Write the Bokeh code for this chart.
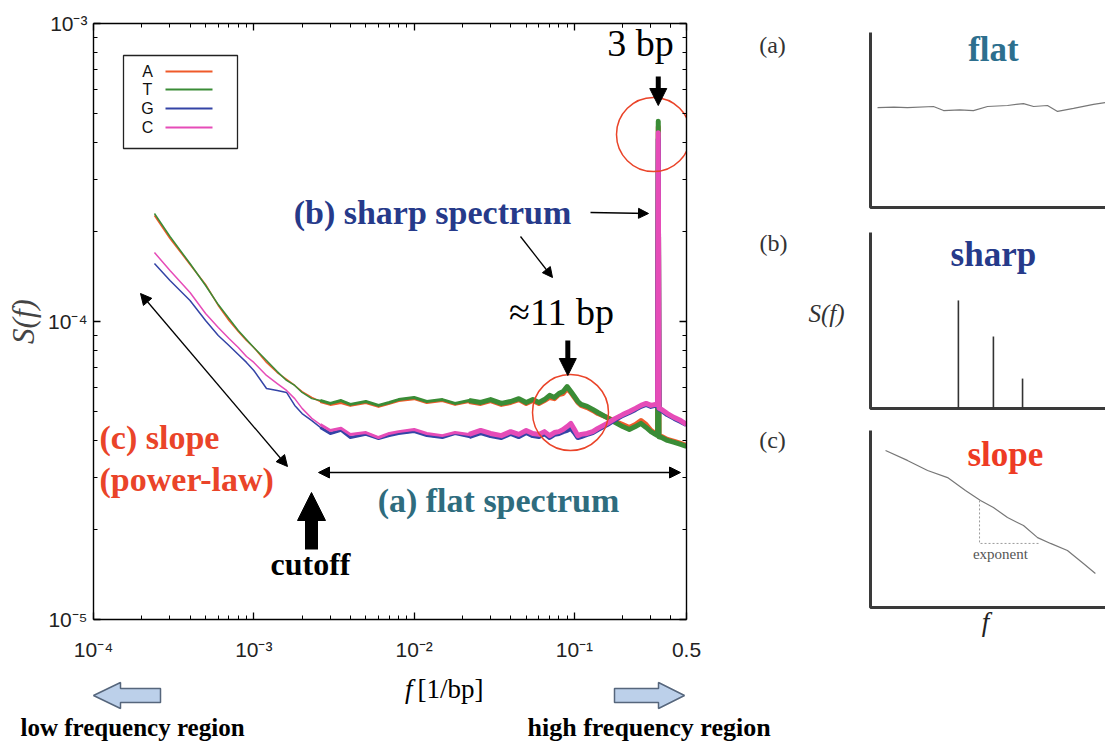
import numpy as np
from bokeh.plotting import figure
from bokeh.models import (Range1d, LogAxis, FixedTicker, CustomJSTickFormatter, Label,
                          Arrow, NormalHead)
from bokeh.layouts import row, column
from bokeh.embed import file_html
from bokeh.resources import INLINE
from bokeh.core.properties import value

# ---------------------------------------------------------------------------
# Power spectra S(f) of the four nucleotide indicator sequences
# ---------------------------------------------------------------------------
freq = [2.4e-4, 3e-4, 4e-4, 5e-4, 6e-4, 7e-4, 8e-4, 9e-4, 1e-3, 1.2e-3, 1.4e-3,
        1.6e-3, 1.8e-3, 2e-3, 2.3e-3, 2.6e-3, 3e-3, 3.5e-3, 4e-3, 5e-3, 6e-3,
        7e-3, 8e-3, 1e-2, 1.2e-2, 1.5e-2, 1.8e-2, 2.2e-2, 2.6e-2, 3e-2, 3.5e-2,
        4e-2, 4.5e-2, 5e-2, 5.5e-2, 6e-2, 6.5e-2, 7e-2, 7.5e-2, 8e-2, 8.5e-2,
        9e-2, 9.5e-2, 0.1, 0.105, 0.11, 0.12, 0.13, 0.14, 0.16, 0.18, 0.2,
        0.22, 0.24, 0.26, 0.28, 0.3, 0.32, 0.33, 1 / 3, 0.337, 0.35, 0.38,
        0.42, 0.46, 0.5]

S_UNIT = 1e-5  # spectra below are listed in units of 1e-5

spec_A = [22.69, 18.99, 15.54, 13.31, 11.32, 10.08, 9.26, 8.63, 8.18, 7.29, 6.74,
          6.39, 6.10, 5.82, 5.56, 5.39, 5.27, 5.35, 5.23, 5.35, 5.19,
          5.31, 5.43, 5.51, 5.35, 5.43, 5.27, 5.39, 5.31, 5.43, 5.27,
          5.35, 5.47, 5.31, 5.43, 5.31, 5.43, 5.56, 5.51, 5.69, 5.73,
          5.96, 5.78, 5.56, 5.35, 5.23, 5.14, 5.03, 4.91, 4.76, 4.62, 4.51,
          4.41, 4.51, 4.65, 4.51, 4.31, 4.21, 4.18, 45.0, 4.12, 4.11, 4.02,
          3.96, 3.90, 3.84]

spec_T = [23.04, 19.28, 15.65, 13.21, 11.40, 10.23, 9.33, 8.70, 8.18, 7.40, 6.79,
          6.34, 6.10, 5.78, 5.51, 5.43, 5.31, 5.43, 5.27, 5.39, 5.23,
          5.35, 5.47, 5.56, 5.39, 5.47, 5.31, 5.43, 5.35, 5.47, 5.31,
          5.39, 5.51, 5.35, 5.47, 5.35, 5.47, 5.65, 5.56, 5.73, 5.82,
          6.05, 5.82, 5.60, 5.39, 5.27, 5.19, 5.07, 4.95, 4.76, 4.58, 4.44,
          4.34, 4.44, 4.55, 4.41, 4.27, 4.18, 4.14, 47.0, 4.10, 4.08, 3.99,
          3.93, 3.87, 3.81]

spec_G = [15.65, 13.73, 11.76, 10.08, 8.98, 8.31, 7.75, 7.29, 6.85, 5.96, 5.87,
          5.78, 5.23, 4.91, 4.65, 4.41, 4.21, 4.31, 4.08, 4.18, 4.05,
          4.14, 4.21, 4.27, 4.14, 4.08, 4.21, 4.11, 4.24, 4.14, 4.08,
          4.21, 4.11, 4.24, 4.14, 4.11, 4.21, 4.08, 4.18, 4.21, 4.27,
          4.31, 4.38, 4.24, 4.08, 4.11, 4.18, 4.24, 4.34, 4.51, 4.69, 4.84,
          4.95, 5.07, 5.19, 5.27, 5.19, 5.23, 5.20, 41.0, 5.10, 5.03, 4.87,
          4.73, 4.62, 4.51]

spec_C = [17.04, 14.83, 12.51, 10.64, 9.55, 8.77, 8.18, 7.63, 7.29, 6.59, 6.19,
          5.87, 5.51, 5.11, 4.73, 4.51, 4.31, 4.38, 4.18, 4.24, 4.08,
          4.21, 4.27, 4.34, 4.21, 4.14, 4.24, 4.18, 4.31, 4.21, 4.14,
          4.27, 4.18, 4.31, 4.21, 4.18, 4.27, 4.14, 4.24, 4.27, 4.34,
          4.44, 4.55, 4.34, 4.14, 4.18, 4.21, 4.27, 4.38, 4.55, 4.73, 4.87,
          4.99, 5.11, 5.23, 5.31, 5.23, 5.27, 5.25, 43.0, 5.12, 5.07, 4.91,
          4.76, 4.65, 4.51]

nucleotides = ["A", "T", "G", "C"]
spectra = [spec_A, spec_T, spec_G, spec_C]
colors = ["#ef5a2a", "#3a8c36", "#3444a6", "#e64cb8"]

# axis ticks
x_ticks = [1e-4, 1e-3, 1e-2, 1e-1, 0.5]
x_tick_labels = ["10\u207b\u2074", "10\u207b\u00b3", "10\u207b\u00b2", "10\u207b\u00b9", "0.5"]
y_ticks = [1e-5, 1e-4, 1e-3]
y_tick_labels = ["10\u207b\u2075", "10\u207b\u2074", "10\u207b\u00b3"]

# periodicities marked on the spectrum (bp)
period_codon = 3
period_helix = 11

# schematic spectra of the three inset panels (unit square of each panel box)
flat_x = [0.03, 0.10, 0.157, 0.268, 0.311, 0.38, 0.438, 0.498, 0.583, 0.651,
          0.694, 0.753, 0.796, 0.864, 0.949, 1.0]
flat_y = [0.571, 0.574, 0.571, 0.577, 0.554, 0.558, 0.554, 0.577, 0.583, 0.594,
          0.577, 0.583, 0.549, 0.566, 0.589, 0.600]
sharp_pos = [0.374, 0.523, 0.647]
sharp_height = [0.614, 0.409, 0.170]
slope_x = [0.064, 0.157, 0.243, 0.328, 0.404, 0.468, 0.523, 0.583, 0.651,
           0.711, 0.766, 0.838, 0.906, 0.957]
slope_y = [0.887, 0.831, 0.774, 0.734, 0.661, 0.605, 0.565, 0.508, 0.463,
           0.395, 0.362, 0.322, 0.249, 0.192]

SERIF = "Liberation Serif"
SANS = "Liberation Sans"
RED = "#ea4429"
NAVY = "#263a8a"
TEAL = "#2e6c7e"


def label(fig, x, y, text, size, color="black", font=SERIF, style="normal",
          align="center", baseline="middle"):
    fig.add_layout(Label(x=x, y=y, text=text, text_font=font,
                         text_font_size=f"{size}px", text_font_style=style,
                         text_color=color, text_align=align,
                         text_baseline=baseline))


def arrow(fig, x0, y0, x1, y1, width=1.3, head=10, both=False):
    hd = dict(size=head, fill_color="black", line_color="black", line_width=1)
    fig.add_layout(Arrow(x_start=x0, y_start=y0, x_end=x1, y_end=y1,
                         line_width=width, line_color="black",
                         end=NormalHead(**hd),
                         start=NormalHead(**hd) if both else None))


def bare(fig):
    fig.xgrid.visible = False
    fig.ygrid.visible = False
    fig.xaxis.visible = False
    fig.yaxis.visible = False
    fig.outline_line_color = None
    fig.border_fill_color = "white"
    fig.background_fill_color = "white"


# ---------------------------------------------------------------------------
# main log-log panel
# ---------------------------------------------------------------------------
X0, X1 = 1e-4, 0.5
Y0, Y1 = 1e-5, 1e-3
FL, FT, FW, FH = 93, 23, 593, 596          # frame box on the page
MAIN_W, MAIN_H = 740, 670
PAGE_W, STRIP_H = 1105, 75


def fx(px):
    """page column -> frequency"""
    lo, hi = np.log10(X0), np.log10(X1)
    return 10 ** (lo + (px - FL) / FW * (hi - lo))


def sy(py):
    """page row -> spectral power"""
    lo, hi = np.log10(Y0), np.log10(Y1)
    return 10 ** (hi - (py - FT) / FH * (hi - lo))


p = figure(width=MAIN_W, height=MAIN_H, x_axis_type="log", y_axis_type="log",
           x_range=Range1d(X0, X1), y_range=Range1d(Y0, Y1),
           output_backend="svg", toolbar_location=None,
           min_border_left=FL, min_border_right=MAIN_W - FL - FW,
           min_border_top=FT, min_border_bottom=MAIN_H - FT - FH)
p.xgrid.visible = False
p.ygrid.visible = False
p.outline_line_color = None
p.background_fill_color = "white"
p.border_fill_color = "white"


def tick_formatter(values, texts):
    return CustomJSTickFormatter(args=dict(tick_values=values, tick_texts=texts), code="""
        let best = 0;
        for (let i = 1; i < tick_values.length; i++) {
            if (Math.abs(Math.log(tick_values[i] / tick)) < Math.abs(Math.log(tick_values[best] / tick)))
                best = i;
        }
        return tick_texts[best];
    """)


x_minor = [m * 10.0 ** e for e in range(-4, 0) for m in range(2, 10) if m * 10.0 ** e < 0.5]
x_minor += [0.2, 0.3, 0.4]
y_minor = [m * 10.0 ** e for e in (-5, -4) for m in range(2, 10)]


def style_axis(ax, ticks, minor):
    ax.ticker = FixedTicker(ticks=ticks, minor_ticks=minor)
    ax.major_tick_in = 7
    ax.major_tick_out = 0
    ax.minor_tick_in = 4
    ax.minor_tick_out = 0
    ax.axis_line_color = "black"
    ax.axis_line_width = 1.4
    ax.major_tick_line_color = "black"
    ax.major_tick_line_width = 1.3
    ax.minor_tick_line_color = "black"


xa = p.xaxis[0]
style_axis(xa, x_ticks, x_minor)
xa.formatter = tick_formatter(x_ticks, x_tick_labels)
xa.major_label_text_font = SANS
xa.major_label_text_font_size = "21px"
xa.major_label_text_color = "#222222"
xa.major_label_standoff = 18

ya = p.yaxis[0]
style_axis(ya, y_ticks, y_minor)
ya.formatter = tick_formatter(y_ticks, y_tick_labels)
ya.major_label_text_font = SANS
ya.major_label_text_font_size = "21px"
ya.major_label_text_color = "#222222"
ya.major_label_standoff = 6
ya.axis_label = "S(f)"
ya.axis_label_text_font = SERIF
ya.axis_label_text_font_style = "italic"
ya.axis_label_text_font_size = "31px"
ya.axis_label_standoff = 4

# mirrored tick axes closing the box (labels kept invisible)
for loc, ticks, minor in (("right", y_ticks, y_minor), ("above", x_ticks, x_minor)):
    ax = LogAxis()
    style_axis(ax, ticks, minor)
    ax.major_label_text_alpha = 0
    ax.major_label_text_font_size = "8px"
    ax.major_label_standoff = 0
    p.add_layout(ax, loc)

# spectra: thin line everywhere, thicker where the estimate gets noisy
for name, spec, col in zip(nucleotides, spectra, colors):
    s = [v * S_UNIT for v in spec]
    p.line(freq, s, line_color=col, line_width=1.5, line_join="round")
    mid = [i for i, f in enumerate(freq) if 2.6e-3 <= f <= 2.6e-2]
    p.line([freq[i] for i in mid], [s[i] for i in mid], line_color=col,
           line_width=3.0, line_join="round")
    hi = [i for i, f in enumerate(freq) if f >= 2.2e-2]
    p.line([freq[i] for i in hi], [s[i] for i in hi], line_color=col,
           line_width=5.0, line_join="round")

# legend box: letter followed by a line sample
p.quad(left=[fx(123)], right=[fx(237)], top=[sy(55)], bottom=[sy(148)],
       fill_color="white", line_color="#222222", line_width=1.3)
leg_y = [sy(v) for v in (71, 89, 108, 127)]
p.text(x=[fx(147)] * 4, y=leg_y, text=nucleotides, text_font=value(SANS),
       text_font_size="16px", text_align="center", text_baseline="middle",
       text_color="#111111")
p.segment(x0=[fx(165)] * 4, x1=[fx(212)] * 4, y0=leg_y, y1=leg_y,
          line_color=colors, line_width=2)

# circles around the two periodicity peaks
p.scatter(x=[fx(570)], y=[sy(412)], size=76, marker="circle",
          fill_color=None, line_color=RED, line_width=1.5)
p.scatter(x=[fx(653)], y=[sy(134)], size=74, marker="circle",
          fill_color=None, line_color=RED, line_width=1.5)

# period markers
f3 = 1 / period_codon
f11 = 1 / period_helix
label(p, fx(640), sy(42), "3 bp", 38)
arrow(p, f3, sy(76), f3, sy(105), width=5, head=17)
label(p, fx(561), sy(311), "\u224811 bp", 38)
arrow(p, f11, sy(340), f11, sy(375), width=5, head=17)

# spectrum categories
label(p, fx(432), sy(212), "(b) sharp spectrum", 34, NAVY, style="bold")
arrow(p, fx(590), sy(212), fx(648), sy(213), head=10)
arrow(p, fx(520), sy(236), fx(552), sy(277), head=10)

label(p, fx(99), sy(437), "(c) slope", 34, RED, style="bold", align="left")
label(p, fx(99), sy(479), "(power-law)", 34, RED, style="bold", align="left")
arrow(p, fx(140), sy(293), fx(287), sy(466), head=11, both=True)

arrow(p, fx(318), sy(472), fx(680), sy(472), head=11, both=True)
label(p, fx(498), sy(500), "(a) flat spectrum", 34, TEAL, style="bold")

arrow(p, fx(311), sy(549), fx(311), sy(492), width=13, head=28)
label(p, fx(310), sy(563), "cutoff", 32, style="bold")

# ---------------------------------------------------------------------------
# strip under the panel: axis title and frequency-region markers
# (page-pixel coordinates, y pointing down)
# ---------------------------------------------------------------------------
strip = figure(width=PAGE_W, height=STRIP_H, x_range=Range1d(0, PAGE_W),
               y_range=Range1d(MAIN_H + STRIP_H, MAIN_H),
               output_backend="svg", toolbar_location=None,
               min_border_left=0, min_border_right=0, min_border_top=0, min_border_bottom=0)
bare(strip)
label(strip, 412, 688, "f", 27, style="italic", align="right")
label(strip, 417, 688, "[1/bp]", 27, align="left")

left_block = [(93, 695), (120, 682), (120, 688), (160, 688), (160, 702), (120, 702), (120, 708)]
right_block = [(684, 695), (658, 682), (658, 688), (614, 688), (614, 702), (658, 702), (658, 708)]
strip.patches(xs=[[a for a, _ in pts] for pts in (left_block, right_block)],
              ys=[[b for _, b in pts] for pts in (left_block, right_block)],
              fill_color="#bcd0ea", line_color="#56667c", line_width=1.5)
label(strip, 20, 727, "low frequency region", 25, style="bold", align="left")
label(strip, 527, 727, "high frequency region", 26, style="bold", align="left")

# ---------------------------------------------------------------------------
# schematic insets: each panel box is the unit square, the figure frame
# spans the whole cell so the side letters can sit left of the box
# ---------------------------------------------------------------------------
INSET_W = PAGE_W - MAIN_W
BOX_L, BOX_W = 870 - MAIN_W, 235


def inset(cell_top, cell_h, box_top, box_bottom):
    scale = box_bottom - box_top
    yr = Range1d((box_bottom - (cell_top + cell_h)) / scale, (box_bottom - cell_top) / scale)
    xr = Range1d(-BOX_L / BOX_W, (INSET_W - BOX_L) / BOX_W)
    q = figure(width=INSET_W, height=cell_h, x_range=xr, y_range=yr,
               output_backend="svg", toolbar_location=None,
               min_border_left=0, min_border_right=0, min_border_top=0, min_border_bottom=0)
    bare(q)
    q.line([0, 0, 1], [1, 0, 0], line_color="#3a3a3a", line_width=3)
    return q


qa = inset(0, 220, 32, 207)
qa.line(flat_x, flat_y, line_color="#777777", line_width=1.2)
label(qa, -0.417, 0.926, "(a)", 24, "#333333")
label(qa, 0.523, 0.905, "flat", 35, "#2d6f8e", style="bold")

qb = inset(220, 200, 232, 408)
qb.segment(x0=sharp_pos, y0=[0] * len(sharp_pos), x1=sharp_pos, y1=sharp_height,
           line_color="#333333", line_width=1.6)
label(qb, -0.413, 0.943, "(b)", 24, "#333333")
label(qb, 0.523, 0.875, "sharp", 35, NAVY, style="bold")
label(qb, -0.187, 0.540, "S(f)", 25, "#333333", style="italic")

qc = inset(420, 250, 430, 607)
qc.line(slope_x, slope_y, line_color="#777777", line_width=1.2)
qc.line([0.464, 0.464, 0.723], [0.605, 0.362, 0.362], line_color="#9a9a9a",
        line_width=1, line_dash="2 2")
label(qc, 0.553, 0.300, "exponent", 15, "#555555")
label(qc, -0.417, 0.944, "(c)", 24, "#333333")
label(qc, 0.574, 0.865, "slope", 35, "#ee3b24", style="bold")
label(qc, 0.489, -0.080, "f", 27, "#222222", style="italic")

layout = column(row(p, column(qa, qb, qc)), strip)

open("out.html", "w").write(file_html(layout, INLINE))
